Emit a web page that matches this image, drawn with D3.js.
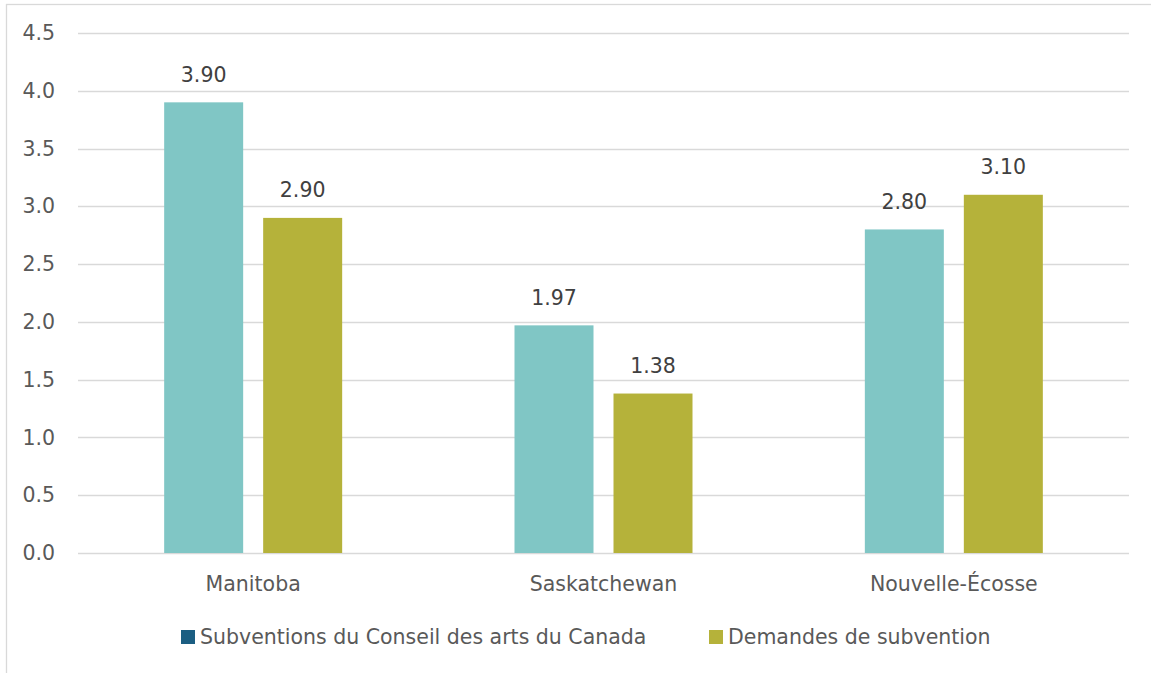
<!DOCTYPE html>
<html>
<head>
<meta charset="utf-8">
<script src="https://cdn.jsdelivr.net/npm/d3@7"></script>
<style>
body { margin: 0; background: #fff; }
text { font-family: "DejaVu Sans", "Open Sans", sans-serif; }
</style>
</head>
<body>
<script>
// données
var provinces = ["Manitoba", "Saskatchewan", "Nouvelle-Écosse"];
var series = ["Subventions du Conseil des arts du Canada", "Demandes de subvention"];
var subventions = [3.90, 1.97, 2.80];
var demandes = [2.90, 1.38, 3.10];
var yTicks = [0, 0.5, 1, 1.5, 2, 2.5, 3, 3.5, 4, 4.5];

var W = 1151, H = 673;
var margin = {top: 33, right: 22, bottom: 120, left: 78};
var width = W - margin.left - margin.right,
    height = H - margin.top - margin.bottom;
var fs = "20.5px";

var svg = d3.select("body").append("svg")
  .attr("width", W).attr("height", H);

// cadre du graphique
svg.append("rect")
  .attr("x", 6.5).attr("y", 4.5)
  .attr("width", W + 10).attr("height", H + 10)
  .attr("fill", "none").attr("stroke", "#d9d9d9").attr("stroke-width", 1.3);

var g = svg.append("g").attr("transform", "translate(" + margin.left + "," + margin.top + ")");

var y = d3.scaleLinear().domain([0, 4.5]).range([height, 0]);
var x0 = d3.scaleBand().domain(provinces).range([0, width]);
var x1 = d3.scaleBand().domain(series)
  .range([x0.bandwidth() / 2 - 89, x0.bandwidth() / 2 + 89]).paddingInner(20 / 99);

var colors = {bar: ["#80c6c5", "#b5b23a"], legend: ["#1b5e82", "#b5b23a"]};

// grille
g.selectAll(".grid").data(yTicks).enter().append("line")
  .attr("x1", 0).attr("x2", width)
  .attr("y1", function(d) { return Math.round(y(d)) + 0.5; })
  .attr("y2", function(d) { return Math.round(y(d)) + 0.5; })
  .attr("stroke", "#d9d9d9").attr("stroke-width", 1.5);

// axe y
var yAxis = g.append("g")
  .call(d3.axisLeft(y).tickValues(yTicks).tickFormat(d3.format(".1f")).tickSize(0).tickPadding(23));
yAxis.select(".domain").remove();
yAxis.selectAll("text").attr("fill", "#595959").style("font-size", fs);

// axe x
var xAxis = g.append("g").attr("transform", "translate(0," + height + ")")
  .call(d3.axisBottom(x0).tickSize(0).tickPadding(23));
xAxis.select(".domain").remove();
xAxis.selectAll("text").attr("fill", "#595959").style("font-size", fs);

var rows = provinces.map(function(p, i) {
  return {province: p, values: [subventions[i], demandes[i]]};
});

var groups = g.selectAll(".grp").data(rows).enter().append("g")
  .attr("transform", function(d) { return "translate(" + x0(d.province) + ",0)"; });

var bars = groups.selectAll("g").data(function(d) {
  return d.values.map(function(v, j) { return {s: series[j], v: v, j: j}; });
}).enter().append("g");

bars.append("rect")
  .attr("x", function(d) { return x1(d.s); })
  .attr("width", x1.bandwidth())
  .attr("y", function(d) { return y(d.v); })
  .attr("height", function(d) { return height - y(d.v); })
  .attr("fill", function(d) { return colors.bar[d.j]; });

bars.append("text")
  .attr("x", function(d) { return x1(d.s) + x1.bandwidth() / 2; })
  .attr("y", function(d) { return y(d.v) - 28; })
  .attr("text-anchor", "middle")
  .attr("dy", "0.35em")
  .attr("fill", "#404040")
  .style("font-size", fs)
  .text(function(d) { return d3.format(".2f")(d.v); });

// légende
var legX = [181, 709];
var leg = svg.selectAll(".leg").data(series).enter().append("g")
  .attr("transform", function(d, i) { return "translate(" + legX[i] + ",630)"; });
leg.append("rect").attr("width", 14).attr("height", 14)
  .attr("fill", function(d, i) { return colors.legend[i]; });
leg.append("text").attr("x", 19).attr("y", 7).attr("dy", "0.35em")
  .attr("fill", "#595959").style("font-size", fs)
  .text(function(d) { return d; });
</script>
</body>
</html>
